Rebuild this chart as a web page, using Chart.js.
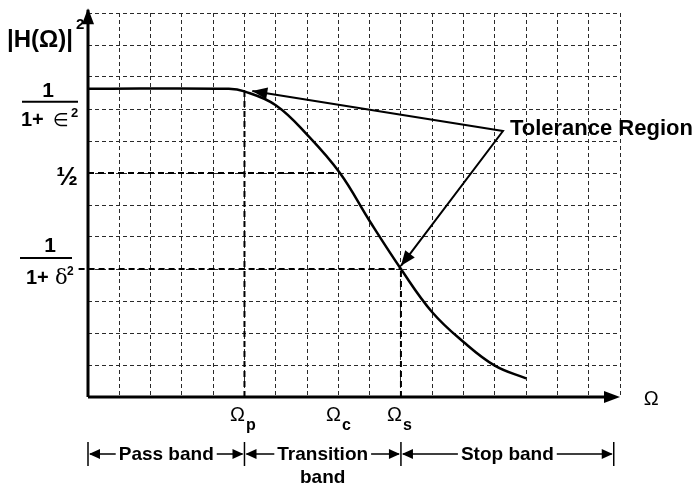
<!DOCTYPE html>
<html>
<head>
<meta charset="utf-8">
<script src="https://cdn.jsdelivr.net/npm/chart.js@4/dist/chart.umd.min.js"></script>
<style>
  body { margin: 0; background: #fff; }
  canvas { display: block; }
</style>
</head>
<body>
<canvas id="filterChart" width="696" height="487"></canvas>
<script>
// everything is in grid units (one unit = one square of the graph paper)
const curveX = [0, 4.5, 5.0, 6.0, 7.0, 8.05, 9.0, 10.0, 11.0, 12.0, 13.0, 14.0];
const curveY = [9.63, 9.63, 9.55, 9.12, 8.2, 7.0, 5.5, 4.0, 2.65, 1.72, 0.98, 0.58];

const passEdge = 5;      // Ωp
const cutoff = 8.05;     // Ωc
const stopEdge = 10;     // Ωs
const passLevel = 9.63;  // 1/(1+ε²)
const halfLevel = 7;     // ½
const stopLevel = 4;     // 1/(1+δ²)
const xMax = 17;
const yMax = 12;

const omegaTicks = [passEdge, cutoff, stopEdge];
const omegaSubs = ['p', 'c', 's'];

const bandEdges = [0, 5, 10, 16.8];
const bandLabels = [['Pass band'], ['Transition', 'band'], ['Stop band']];

const toleranceFrom = { x: 13.26, y: 8.31 };
const toleranceTips = [{ x: 5.25, y: 9.56 }, { x: 10.0, y: 4.1 }];

const FONT = '"Liberation Sans", Arial, sans-serif';

function arrowHead(ctx, fx, fy, tx, ty, len, half) {
    const a = Math.atan2(ty - fy, tx - fx);
    ctx.beginPath();
    ctx.moveTo(tx, ty);
    ctx.lineTo(tx - len * Math.cos(a) + half * Math.sin(a), ty - len * Math.sin(a) - half * Math.cos(a));
    ctx.lineTo(tx - len * Math.cos(a) - half * Math.sin(a), ty - len * Math.sin(a) + half * Math.cos(a));
    ctx.closePath();
    ctx.fill();
}

const dashed = {
    showLine: true,
    borderColor: '#000',
    borderWidth: 2,
    borderDash: [6, 4],
    pointRadius: 0,
    clip: false
};

const decorations = {
    id: 'decorations',
    afterDraw(chart) {
        const ctx = chart.ctx;
        const xs = chart.scales.x;
        const ys = chart.scales.y;
        const px = v => xs.getPixelForValue(v);
        const py = v => ys.getPixelForValue(v);

        ctx.save();
        ctx.fillStyle = '#000';
        ctx.strokeStyle = '#000';

        // axes with arrows
        ctx.lineWidth = 3;
        ctx.beginPath();
        ctx.moveTo(px(0), py(0));
        ctx.lineTo(px(0), py(yMax + 0.1));
        ctx.moveTo(px(0), py(0));
        ctx.lineTo(px(xMax) - 6, py(0));
        ctx.stroke();
        arrowHead(ctx, px(0), py(0), px(0), py(yMax + 0.15), 16, 6);
        arrowHead(ctx, px(0), py(0), px(xMax), py(0), 16, 6);

        // arrow heads of the tolerance pointers
        toleranceTips.forEach(t => {
            arrowHead(ctx, px(toleranceFrom.x), py(toleranceFrom.y), px(t.x), py(t.y), 15, 6);
        });
        ctx.font = 'bold 22px ' + FONT;
        ctx.textAlign = 'left';
        ctx.textBaseline = 'alphabetic';
        ctx.fillText('Tolerance Region', px(toleranceFrom.x) + 7, py(toleranceFrom.y) + 4);

        // y axis title
        ctx.font = 'bold 24px ' + FONT;
        ctx.fillText('|H(Ω)|', 7, 47);
        const tw = ctx.measureText('|H(Ω)|').width;
        ctx.font = 'bold 15px ' + FONT;
        ctx.fillText('2', 7 + tw + 3, 29);

        // 1 / (1 + ∈²)
        let ly = py(passLevel);
        ctx.textAlign = 'center';
        ctx.font = 'bold 21px ' + FONT;
        ctx.fillText('1', 48, ly + 8);
        ctx.lineWidth = 2;
        ctx.beginPath();
        ctx.moveTo(22, ly + 13);
        ctx.lineTo(78, ly + 13);
        ctx.stroke();
        ctx.textAlign = 'left';
        ctx.font = 'bold 20px ' + FONT;
        ctx.fillText('1+', 21, ly + 37);
        ctx.font = '18px "DejaVu Sans", sans-serif';
        ctx.fillText('∈', 53, ly + 37);
        ctx.font = 'bold 13px ' + FONT;
        ctx.fillText('2', 71, ly + 28);

        // ½
        ctx.textAlign = 'right';
        ctx.font = 'bold 26px ' + FONT;
        ctx.fillText('½', 78, py(halfLevel) + 12);

        // 1 / (1 + δ²)
        ly = py(stopLevel);
        ctx.textAlign = 'center';
        ctx.font = 'bold 21px ' + FONT;
        ctx.fillText('1', 50, ly - 17);
        ctx.beginPath();
        ctx.moveTo(20, ly - 11);
        ctx.lineTo(72, ly - 11);
        ctx.stroke();
        ctx.textAlign = 'left';
        ctx.font = 'bold 20px ' + FONT;
        ctx.fillText('1+', 26, ly + 15);
        ctx.font = '21px "DejaVu Serif", serif';
        ctx.fillText('δ', 55, ly + 15);
        ctx.font = 'bold 12px ' + FONT;
        ctx.fillText('2', 67, ly + 6);

        // Ω ticks on the x axis
        omegaTicks.forEach((v, i) => {
            ctx.font = '20px ' + FONT;
            const w1 = ctx.measureText('Ω').width;
            ctx.font = 'bold 16px ' + FONT;
            const w2 = ctx.measureText(omegaSubs[i]).width;
            const left = px(v) - 2 - (w1 + w2) / 2;
            ctx.textAlign = 'left';
            ctx.font = '20px ' + FONT;
            ctx.fillText('Ω', left, py(0) + 24);
            ctx.font = 'bold 16px ' + FONT;
            ctx.fillText(omegaSubs[i], left + w1 + 1, py(0) + 33);
        });
        ctx.textAlign = 'center';
        ctx.textBaseline = 'middle';
        ctx.font = '20px ' + FONT;
        ctx.fillText('Ω', px(18), py(0) + 2);

        // band annotation under the axis
        const by = py(0) + 57;
        ctx.lineWidth = 1.5;
        bandEdges.forEach(e => {
            ctx.beginPath();
            ctx.moveTo(px(e), by - 12);
            ctx.lineTo(px(e), by + 12);
            ctx.stroke();
        });
        ctx.textBaseline = 'alphabetic';
        ctx.font = 'bold 19px ' + FONT;
        bandLabels.forEach((lines, i) => {
            const a = px(bandEdges[i]);
            const b = px(bandEdges[i + 1]);
            const cx = (a + b) / 2;
            const w = ctx.measureText(lines[0]).width;
            lines.forEach((t, k) => ctx.fillText(t, cx, by + 6 + k * 23));
            ctx.beginPath();
            ctx.moveTo(a + 2, by);
            ctx.lineTo(cx - w / 2 - 3, by);
            ctx.moveTo(cx + w / 2 + 3, by);
            ctx.lineTo(b - 2, by);
            ctx.stroke();
            arrowHead(ctx, a + 20, by, a + 1, by, 11, 5);
            arrowHead(ctx, b - 20, by, b - 1, by, 11, 5);
        });
        ctx.restore();
    }
};

new Chart(document.getElementById('filterChart'), {
    type: 'scatter',
    data: {
        datasets: [
            {
                label: 'response',
                data: curveX.map((x, i) => ({ x: x, y: curveY[i] })),
                showLine: true,
                borderColor: '#000',
                borderWidth: 2.5,
                pointRadius: 0,
                tension: 0.4
            },
            Object.assign({ data: [{ x: 0, y: halfLevel }, { x: cutoff, y: halfLevel }] }, dashed),
            Object.assign({ data: [{ x: -0.3, y: stopLevel }, { x: stopEdge, y: stopLevel }] }, dashed),
            Object.assign({ data: [{ x: passEdge, y: 0 }, { x: passEdge, y: curveY[2] }] }, dashed),
            Object.assign({ data: [{ x: stopEdge, y: 0 }, { x: stopEdge, y: stopLevel }] }, dashed),
            {
                data: [toleranceTips[0], toleranceFrom, toleranceTips[1]],
                showLine: true,
                borderColor: '#000',
                borderWidth: 2,
                pointRadius: 0
            }
        ]
    },
    options: {
        responsive: false,
        animation: false,
        layout: { padding: { left: 88, right: 76, top: 13, bottom: 90 } },
        plugins: { legend: { display: false }, tooltip: { enabled: false } },
        scales: {
            x: {
                type: 'linear',
                min: 0,
                max: xMax,
                ticks: { display: false, stepSize: 1 },
                grid: { color: '#2a2a2a', lineWidth: 1, drawTicks: false },
                border: { display: false, dash: [4, 3] },
                afterFit: axis => { axis.height = 0; }
            },
            y: {
                min: 0,
                max: yMax,
                ticks: { display: false, stepSize: 1 },
                grid: { color: '#2a2a2a', lineWidth: 1, drawTicks: false },
                border: { display: false, dash: [4, 3] },
                afterFit: axis => { axis.width = 0; }
            }
        }
    },
    plugins: [decorations]
});
</script>
</body>
</html>
